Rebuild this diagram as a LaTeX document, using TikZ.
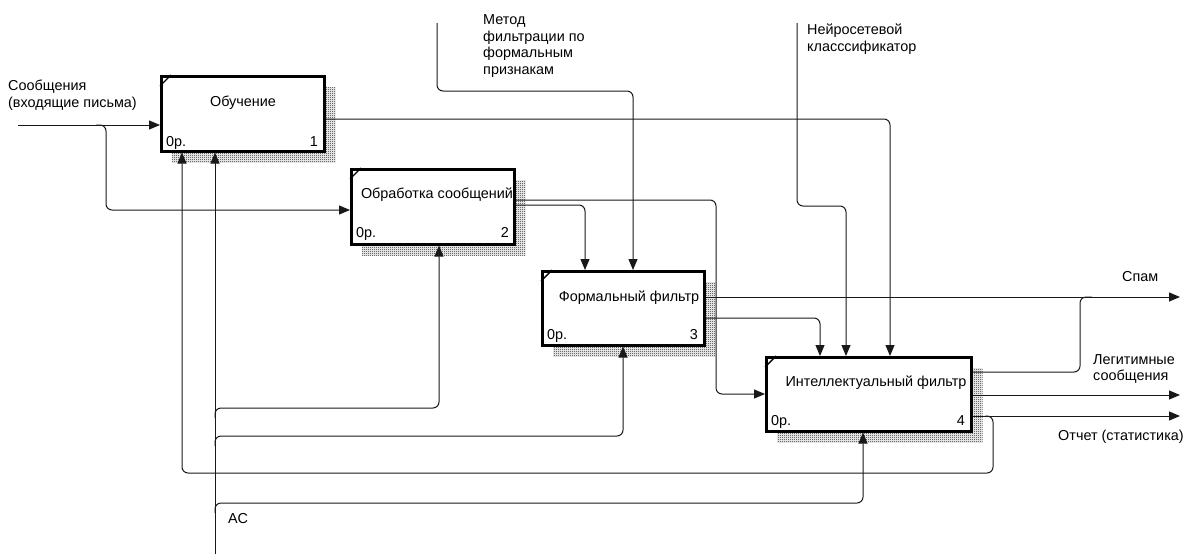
\documentclass[tikz,border=0pt]{standalone}
\usepackage{fontspec}
\setmainfont{Liberation Sans}
\usetikzlibrary{arrows.meta,patterns,backgrounds}
\pgfdeclarepatternformonly{checker}{\pgfpointorigin}{\pgfqpoint{2pt}{2pt}}{\pgfqpoint{2pt}{2pt}}{%
  \pgfpathrectangle{\pgfpointorigin}{\pgfqpoint{1pt}{1pt}}%
  \pgfpathrectangle{\pgfqpoint{1pt}{1pt}}{\pgfqpoint{1pt}{1pt}}%
  \pgfusepath{fill}}
\begin{document}
\begin{tikzpicture}[x=1pt,y=-1pt,
  font=\fontsize{14.4}{16.8}\selectfont,
  box/.style={draw=black, line width=2.5pt, fill=white, minimum width=#1,
    minimum height=75pt, inner sep=0pt, anchor=north west},
  lbl/.style={inner sep=0pt, align=left, text=black},
  conn/.style={line width=1pt, rounded corners=6pt, draw=black!90},
  arr/.style={conn, -{Triangle[length=11pt,width=9pt]}},
  shadow/.style={pattern=checker, pattern color=black!90},
  corner/.style={line width=1.4pt}
]
\useasboundingbox (0,0) rectangle (1185,554);

% boxes
\node[box=163pt] (b1) at (160,75) {};
\node[box=163pt] (b2) at (350,168) {};
\node[box=162pt, minimum height=74pt] (b3) at (541,270) {};
\node[box=205pt, minimum height=74pt] (b4) at (765,356) {};

\begin{scope}[on background layer]
  \fill[white] (0,0) rectangle (1185,554);
  \foreach \b in {b1,b2,b3,b4}
    \fill[shadow] ([shift={(12,12)}]\b.north west) rectangle ([shift={(10,10)}]\b.south east);
\end{scope}

\foreach \b in {b1,b2,b3,b4}
  \draw[corner] ([shift={(0,11)}]\b.north west) -- ([shift={(11,0)}]\b.north west);

% box texts
\node[lbl] (t1) at (243,103) {Обучение};
\node[lbl] (t2) at (437,195) {Обработка сообщений};
\node[lbl] (t3) at (629,298) {Формальный фильтр};
\node[lbl] (t4) at (876,383) {Интеллектуальный фильтр};
\node[lbl, anchor=base west] (o1) at (166,146) {0р.};
\node[lbl, anchor=base east] (n1) at (318,146) {1};
\node[lbl, anchor=base west] (o2) at (356,237) {0р.};
\node[lbl, anchor=base east] (n2) at (509,237) {2};
\node[lbl, anchor=base west] (o3) at (547,339) {0р.};
\node[lbl, anchor=base east] (n3) at (698,339) {3};
\node[lbl, anchor=base west] (o4) at (771,425) {0р.};
\node[lbl, anchor=base east] (n4) at (965,425) {4};

% labels
\node[lbl, anchor=west] (lin) at (8,95) {Сообщения\\(входящие письма)};
\node[lbl, anchor=west] (lmeth) at (483,46) {Метод\\фильтрации по\\формальным\\признакам};
\node[lbl, anchor=west] (lnn) at (807,39) {Нейросетевой\\класссификатор};
\node[lbl, anchor=west] (lspam) at (1122,277) {Спам};
\node[lbl, anchor=west] (lleg) at (1093,369) {Легитимные\\сообщения};
\node[lbl, anchor=west] (lrep) at (1058,437) {Отчет (статистика)};
\node[lbl, anchor=west] (las) at (228,519) {АС};

% free ends
\coordinate (inA) at (18,125);
\coordinate (ctlM) at (437,23);
\coordinate (ctlN) at (797,23);
\coordinate (mechA) at (215,554);
\coordinate (spam) at (1180,297);
\coordinate (leg) at (1180,395);
\coordinate (rep) at (1180,416);

% input
\draw[arr] (inA) -- (b1.west |- 0,125);
\draw[arr] (96,125) -- (106,125) -- (106,210) -- (b2.west |- 0,210);

% controls
\draw[arr] (ctlM) -- (437,91) -- (633,91) -- (633,0 |- b3.north);
\draw[arr] (ctlN) -- (797,206) -- (846,206) -- (846,0 |- b4.north);

% box 1 output
\draw[arr] (b1.east |- 0,119) -- (890,119) -- (890,0 |- b4.north);

% box 2 outputs
\draw[arr] (b2.east |- 0,200) -- (716,200) -- (716,394) -- (b4.west |- 0,394);
\draw[arr] (b2.east |- 0,205) -- (585,205) -- (585,0 |- b3.north);

% box 3 outputs
\draw[arr] (b3.east |- 0,297) -- (spam);
\draw[arr] (b3.east |- 0,318) -- (820,318) -- (820,0 |- b4.north);

% box 4 outputs
\draw[conn] (b4.east |- 0,372) -- (1080,372) -- (1080,297) -- (1092,297);
\draw[arr] (b4.east |- 0,395) -- (leg);
\draw[arr] (b4.east |- 0,416) -- (rep);
\draw[arr] (985,416) -- (993,416) -- (993,473) -- (182,473) -- (182,0 |- b1.south);

% mechanism
\draw[arr] (mechA) -- (215,0 |- b1.south);
\draw[arr] (215,418) -- (215,408) -- (439,408) -- (439,0 |- b2.south);
\draw[arr] (215,446) -- (215,436) -- (623,436) -- (623,0 |- b3.south);
\draw[arr] (215,513) -- (215,503) -- (863,503) -- (863,0 |- b4.south);
\end{tikzpicture}
\end{document}
